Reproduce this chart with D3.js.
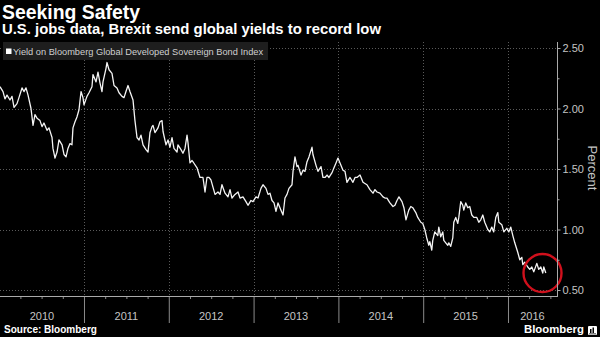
<!DOCTYPE html>
<html><head><meta charset="utf-8">
<script src="https://cdn.jsdelivr.net/npm/d3@7/dist/d3.min.js"></script>
<style>html,body{margin:0;padding:0;background:#000;}svg{display:block;}</style>
</head><body>
<svg id="c" width="600" height="337"></svg>
<script>
// ---- data (time as decimal year, yield in percent) ----
const years = [2010.009,2010.045,2010.068,2010.092,2010.127,2010.151,2010.175,2010.210,2010.233,2010.269,2010.292,2010.316,2010.340,2010.375,2010.399,2010.422,2010.446,2010.481,2010.505,2010.528,2010.564,2010.587,2010.623,2010.634,2010.658,2010.682,2010.705,2010.741,2010.764,2010.788,2010.811,2010.835,2010.858,2010.870,2010.894,2010.917,2010.941,2010.965,2010.988,
2011.000,2011.035,2011.059,2011.094,2011.106,2011.142,2011.165,2011.189,2011.212,2011.224,2011.259,2011.271,2011.295,2011.330,2011.354,2011.389,2011.413,2011.448,2011.472,2011.495,2011.519,2011.542,2011.578,2011.601,2011.625,2011.649,2011.672,2011.696,2011.731,2011.755,2011.778,2011.802,2011.814,2011.837,2011.873,2011.896,2011.920,2011.932,2011.967,2011.991,
2012.014,2012.038,2012.061,2012.097,2012.108,2012.144,2012.167,2012.191,2012.215,2012.226,2012.250,2012.274,2012.285,2012.333,2012.368,2012.403,2012.427,2012.450,2012.474,2012.497,2012.521,2012.545,2012.580,2012.604,2012.627,2012.663,2012.698,2012.722,2012.745,2012.781,2012.816,2012.840,2012.875,2012.910,2012.934,2012.969,2012.993,
2013.028,2013.052,2013.087,2013.111,2013.146,2013.170,2013.193,2013.217,2013.241,2013.264,2013.288,2013.323,2013.347,2013.370,2013.394,2013.417,2013.453,2013.465,2013.488,2013.512,2013.524,2013.559,2013.583,2013.606,2013.630,2013.653,2013.689,2013.700,2013.736,2013.759,2013.795,2013.818,2013.842,2013.866,2013.889,2013.925,2013.948,2013.972,2013.995,
2014.019,2014.054,2014.078,2014.101,2014.137,2014.172,2014.196,2014.219,2014.255,2014.290,2014.313,2014.337,2014.372,2014.408,2014.431,2014.455,2014.490,2014.526,2014.549,2014.573,2014.608,2014.644,2014.667,2014.691,2014.714,2014.750,2014.773,2014.797,2014.830,2014.854,2014.877,2014.913,2014.936,2014.972,2014.995,
2015.019,2015.042,2015.066,2015.078,2015.101,2015.113,2015.137,2015.172,2015.184,2015.207,2015.231,2015.243,2015.266,2015.290,2015.302,2015.325,2015.349,2015.361,2015.384,2015.408,2015.420,2015.443,2015.467,2015.479,2015.502,2015.526,2015.549,2015.573,2015.597,2015.632,2015.656,2015.679,2015.703,2015.726,2015.762,2015.785,2015.809,2015.832,2015.856,2015.880,2015.892,2015.927,2015.951,2015.986,
2016.009,2016.033,2016.057,2016.080,2016.116,2016.139,2016.163,2016.175,2016.198,2016.233,2016.257,2016.281,2016.304,2016.340,2016.363,2016.387,2016.410,2016.422,2016.446];
const yields = [2.18,2.14,2.08,2.11,2.07,2.10,2.01,2.04,2.09,2.17,2.14,2.17,2.11,2.00,1.86,1.95,1.92,1.90,1.85,1.88,1.82,1.84,1.76,1.67,1.59,1.64,1.74,1.70,1.62,1.60,1.67,1.71,1.70,1.84,1.89,1.93,1.99,2.14,2.09,
2.03,2.10,2.13,2.18,2.28,2.22,2.30,2.21,2.14,2.22,2.33,2.38,2.32,2.29,2.19,2.17,2.13,2.10,2.09,2.14,2.19,2.14,2.07,1.90,1.76,1.74,1.78,1.70,1.66,1.64,1.80,1.85,1.86,1.80,1.84,1.89,1.90,1.81,1.70,1.74,
1.68,1.76,1.67,1.64,1.70,1.66,1.63,1.67,1.78,1.72,1.55,1.57,1.56,1.51,1.43,1.43,1.31,1.43,1.43,1.41,1.35,1.29,1.31,1.29,1.37,1.30,1.27,1.33,1.26,1.29,1.31,1.26,1.27,1.23,1.20,1.24,1.23,
1.27,1.26,1.34,1.37,1.34,1.29,1.30,1.24,1.22,1.15,1.22,1.16,1.12,1.26,1.29,1.34,1.37,1.48,1.60,1.52,1.53,1.45,1.49,1.48,1.56,1.60,1.68,1.62,1.53,1.48,1.52,1.43,1.43,1.45,1.43,1.47,1.51,1.55,1.59,
1.55,1.49,1.48,1.39,1.43,1.39,1.43,1.43,1.45,1.39,1.38,1.37,1.33,1.30,1.33,1.31,1.30,1.27,1.26,1.26,1.22,1.19,1.20,1.24,1.27,1.23,1.18,1.08,1.16,1.19,1.18,1.14,1.10,1.06,1.05,
1.00,0.93,0.87,0.90,0.83,0.91,0.98,0.95,1.02,0.94,0.98,0.91,0.89,0.87,0.89,0.86,0.93,1.06,1.10,1.05,1.10,1.23,1.20,1.16,1.22,1.18,1.19,1.12,1.10,1.10,1.06,1.08,1.12,1.06,1.00,0.98,1.02,0.98,1.10,1.14,1.06,1.04,0.98,1.01,
0.98,1.02,0.95,0.89,0.81,0.75,0.77,0.71,0.73,0.69,0.67,0.69,0.65,0.72,0.67,0.69,0.64,0.69,0.64];
const yTickValues = [0.5,1.0,1.5,2.0,2.5];
const yMinorValues = [0.75,1.25,1.75,2.25];
const yearLabels = ["2010","2011","2012","2013","2014","2015","2016"];
const titleText = "Seeking Safety";
const subtitleText = "U.S. jobs data, Brexit send global yields to record low";
const legendText = "Yield on Bloomberg Global Developed Sovereign Bond Index";
const sourceText = "Source: Bloomberg";
const axisTitle = "Percent";
const highlight = {t: 2016.407, v: 0.64}; // red circle annotation

// ---- layout ----
const svg = d3.select("#c");
const W = 600, H = 337;
svg.append("rect").attr("width", W).attr("height", H).attr("fill", "#000");
const plotRight = 557, plotTop = 42, axisY = 296;
const x = d3.scaleLinear().domain([2010, 2016.578]).range([-0.8, plotRight]);
const y = d3.scaleLinear().domain([0.5, 2.5]).range([290, 48]);
const FONT = "'Liberation Sans', Arial, sans-serif";

function fit(sel, w) {
  const l = sel.node().getComputedTextLength();
  const fs = parseFloat(sel.attr("font-size"));
  sel.attr("font-size", (fs * w / l).toFixed(2));
  return sel;
}

// gridlines
const grid = svg.append("g").attr("stroke", "#5a5a5a").attr("stroke-width", 1).attr("stroke-dasharray", "1,2");
grid.selectAll("line.h").data(yTickValues).join("line").attr("class", "h")
  .attr("x1", 0).attr("x2", plotRight).attr("y1", d => Math.round(y(d)) + 0.5).attr("y2", d => Math.round(y(d)) + 0.5);
const yearStarts = yearLabels.slice(1).map(Number);
grid.selectAll("line.v").data(yearStarts).join("line").attr("class", "v")
  .attr("x1", d => Math.round(x(d)) + 0.5).attr("x2", d => Math.round(x(d)) + 0.5).attr("y1", plotTop).attr("y2", axisY);

// legend
const lg = svg.append("g");
lg.append("rect").attr("x", 3).attr("y", 42).attr("width", 265).attr("height", 18).attr("fill", "#1e1e1e");
lg.append("rect").attr("x", 6).attr("y", 48.5).attr("width", 5.5).attr("height", 5.5).attr("fill", "#fff");
fit(lg.append("text").attr("x", 13).attr("y", 54.6).attr("fill", "#d0d0d0").attr("font-family", FONT)
  .attr("font-size", 9).text(legendText), 250);

// data line
svg.append("path").datum(years.map((t, i) => [t, yields[i]]))
  .attr("fill", "none").attr("stroke", "#f4f4f4").attr("stroke-width", 1.3).attr("stroke-linejoin", "round")
  .attr("d", d3.line().x(d => x(d[0])).y(d => y(d[1])));

// highlight circle
svg.append("circle").attr("cx", x(highlight.t)).attr("cy", y(highlight.v)).attr("r", 19)
  .attr("fill", "none").attr("stroke", "#d0101c").attr("stroke-width", 2.4);

// y axis
const yAxisG = svg.append("g").attr("transform", `translate(${plotRight + 0.5},0)`);
yAxisG.call(d3.axisRight(y).tickValues(yTickValues).tickFormat(d3.format(".2f")).tickSize(3).tickPadding(2));
const yMinorG = svg.append("g").attr("transform", `translate(${plotRight + 0.5},0)`);
yMinorG.call(d3.axisRight(y).tickValues(yMinorValues).tickFormat("").tickSize(2));
[yAxisG, yMinorG].forEach(g => { g.select(".domain").remove(); g.selectAll("line").attr("stroke", "#aaa"); });
yAxisG.selectAll("text").attr("fill", "#c4c4c4").attr("font-family", FONT).attr("font-size", 11);
svg.append("line").attr("x1", plotRight + 0.5).attr("x2", plotRight + 0.5).attr("y1", plotTop).attr("y2", axisY)
  .attr("stroke", "#aaa").attr("stroke-width", 1);
svg.append("text").attr("transform", `translate(588,168) rotate(90)`).attr("text-anchor", "middle")
  .attr("fill", "#c4c4c4").attr("font-family", FONT).attr("font-size", 13).text(axisTitle);

// x axis
const quarters = d3.range(2010.25, 2016.6, 0.25).filter(d => d % 1 !== 0);
const xMinor = svg.append("g").attr("transform", `translate(0,${axisY})`)
  .call(d3.axisBottom(x).tickValues(quarters).tickFormat("").tickSize(3));
const xMajor = svg.append("g").attr("transform", `translate(0,${axisY})`)
  .call(d3.axisBottom(x).tickValues(yearStarts).tickFormat("").tickSize(27));
[xMinor, xMajor].forEach(g => { g.select(".domain").remove(); g.selectAll("line").attr("stroke", "#8a8a8a"); });
svg.append("line").attr("x1", 0).attr("x2", plotRight + 1).attr("y1", axisY + 0.5).attr("y2", axisY + 0.5)
  .attr("stroke", "#aaa").attr("stroke-width", 1);
svg.append("g").selectAll("text").data(yearLabels).join("text")
  .attr("x", d => { const a = Math.max(0, x(+d)), b = Math.min(plotRight, x(+d + 1)); return (a + b) / 2; })
  .attr("y", 320).attr("text-anchor", "middle").attr("fill", "#c4c4c4")
  .attr("font-family", FONT).attr("font-size", 11).text(d => d);

// titles
fit(svg.append("text").attr("x", 2).attr("y", 18.6).attr("fill", "#fff").attr("font-family", FONT)
  .attr("font-weight", "bold").attr("font-size", 19).text(titleText), 138);
fit(svg.append("text").attr("x", 2).attr("y", 34.4).attr("fill", "#fff").attr("font-family", FONT)
  .attr("font-weight", "bold").attr("font-size", 13).text(subtitleText), 379);

// footer
fit(svg.append("text").attr("x", 4).attr("y", 333).attr("fill", "#fff").attr("font-family", FONT)
  .attr("font-weight", "bold").attr("font-size", 10).text(sourceText), 93);
fit(svg.append("text").attr("x", 524).attr("y", 333).attr("fill", "#fff").attr("font-family", FONT)
  .attr("font-weight", "bold").attr("font-size", 14).text("Bloomberg"), 60);
const logo = svg.append("g").attr("transform", "translate(588,326)");
logo.append("rect").attr("width", 9).attr("height", 9).attr("rx", 1).attr("fill", "#fff");
logo.append("rect").attr("x", 2).attr("y", 3).attr("width", 1.5).attr("height", 4).attr("fill", "#000");
logo.append("rect").attr("x", 4.5).attr("y", 1.5).attr("width", 1.5).attr("height", 5.5).attr("fill", "#000");
logo.append("rect").attr("x", 1).attr("y", 7.5).attr("width", 7).attr("height", 0.8).attr("fill", "#000");
</script>
</body></html>
